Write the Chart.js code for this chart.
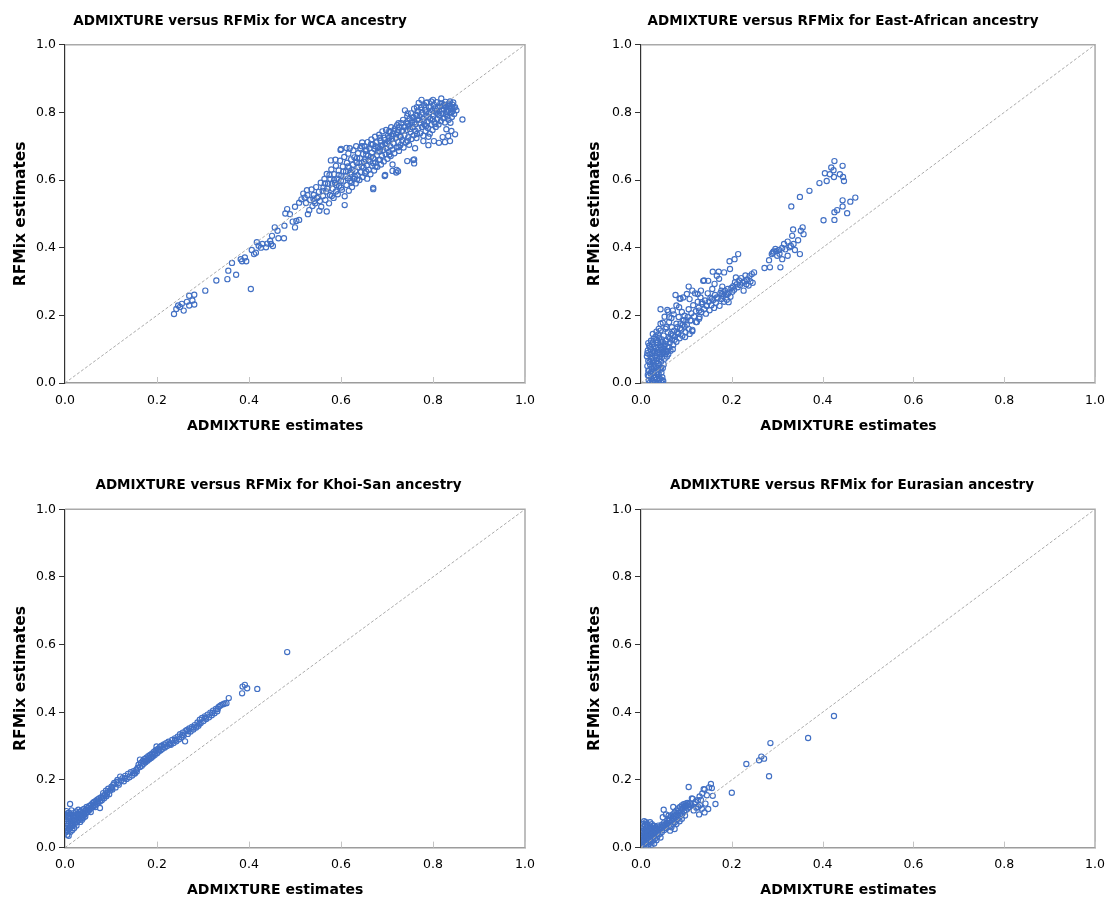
<!DOCTYPE html>
<html><head><meta charset="utf-8">
<script src="https://cdn.jsdelivr.net/npm/chart.js@4.4.1/dist/chart.umd.min.js"></script>
<style>
html,body{margin:0;padding:0;background:#fff;}
#wrap{position:relative;width:1115px;height:899px;overflow:hidden;background:#fff;}
canvas{position:absolute;}
</style></head><body>
<div id="wrap">
<canvas id="c1" width="557" height="450" style="left:0;top:0"></canvas>
<canvas id="c2" width="558" height="450" style="left:557px;top:0"></canvas>
<canvas id="c3" width="557" height="449" style="left:0;top:450px"></canvas>
<canvas id="c4" width="558" height="449" style="left:557px;top:450px"></canvas>
</div>
<script>
// ---------- text & ticks ----------
const chartTitles = [
  'ADMIXTURE versus RFMix for WCA ancestry',
  'ADMIXTURE versus RFMix for East-African ancestry',
  'ADMIXTURE versus RFMix for Khoi-San ancestry',
  'ADMIXTURE versus RFMix for Eurasian ancestry'
];
const xTitle = 'ADMIXTURE estimates';
const yTitle = 'RFMix estimates';
const tickValues = [0, 0.2, 0.4, 0.6, 0.8, 1.0];
const tickLabels = ['0.0', '0.2', '0.4', '0.6', '0.8', '1.0'];
const diagonal = [[0, 0], [1, 1]];

// ---------- data: [ADMIXTURE, RFMix] ----------
const wcaPoints = [
[0.237,0.204],[0.242,0.219],[0.246,0.229],[0.254,0.234],[0.258,0.214],[0.270,0.258],[0.281,0.261],[0.277,0.244],[0.270,0.229],[0.281,0.232],[0.250,0.225],[0.265,0.240],
[0.305,0.273],[0.329,0.303],[0.353,0.307],[0.355,0.332],[0.363,0.355],[0.372,0.320],[0.382,0.366],[0.391,0.371],[0.394,0.360],[0.385,0.360],[0.404,0.278],[0.406,0.393],[0.411,0.381],[0.415,0.385],[0.417,0.416],[0.421,0.406],[0.429,0.411],[0.426,0.400],[0.437,0.401],[0.440,0.412],[0.448,0.411],[0.446,0.420],[0.450,0.435],[0.452,0.405],[0.456,0.460],[0.462,0.450],[0.464,0.428],[0.476,0.428],[0.477,0.465],[0.479,0.501],[0.483,0.514],[0.489,0.499],[0.495,0.477],[0.500,0.460],[0.503,0.479],[0.509,0.482],[0.500,0.521],[0.509,0.533],[0.514,0.543],[0.518,0.560],[0.526,0.570],[0.528,0.499],[0.531,0.511],[0.542,0.538],[0.553,0.509],[0.569,0.507],[0.608,0.526],[0.670,0.573],[0.695,0.612],
[0.521,0.548],[0.524,0.532],[0.527,0.556],[0.533,0.541],[0.536,0.572],[0.538,0.523],
[0.541,0.556],[0.544,0.531],[0.546,0.579],[0.548,0.547],[0.552,0.565],[0.554,0.538],[0.556,0.592],[0.557,0.521],
[0.561,0.553],[0.562,0.578],[0.564,0.603],[0.566,0.541],[0.568,0.566],[0.569,0.618],[0.572,0.589],[0.574,0.531],
[0.576,0.556],[0.577,0.603],[0.578,0.658],[0.579,0.631],[0.582,0.574],[0.584,0.547],[0.585,0.617],[0.587,0.592],[0.589,0.642],[0.589,0.566],
[0.592,0.604],[0.593,0.558],[0.595,0.628],[0.596,0.582],[0.598,0.657],[0.599,0.689],[0.601,0.613],[0.602,0.571],[0.604,0.640],[0.605,0.596],[0.607,0.668],[0.608,0.552],
[0.611,0.625],[0.612,0.585],[0.613,0.651],[0.615,0.605],[0.616,0.678],[0.617,0.568],[0.618,0.636],[0.619,0.694],[0.620,0.597],
[0.622,0.661],[0.623,0.617],[0.624,0.579],[0.626,0.645],[0.627,0.688],[0.628,0.603],[0.629,0.667],[0.631,0.627],[0.632,0.590],[0.633,0.700],[0.634,0.652],[0.636,0.614],[0.637,0.679],[0.638,0.638],
[0.640,0.600],[0.641,0.664],[0.642,0.694],[0.643,0.623],[0.645,0.651],[0.646,0.711],[0.647,0.609],[0.648,0.677],[0.649,0.637],
[0.651,0.700],[0.652,0.620],[0.653,0.661],[0.654,0.686],[0.656,0.643],[0.657,0.604],[0.658,0.712],[0.659,0.672],[0.660,0.630],
[0.662,0.694],[0.663,0.655],[0.664,0.617],[0.666,0.720],[0.667,0.681],[0.668,0.642],[0.669,0.706],[0.670,0.665],
[0.672,0.628],[0.673,0.692],[0.674,0.728],[0.675,0.651],[0.677,0.711],[0.678,0.673],[0.679,0.639],[0.680,0.697],
[0.682,0.659],[0.683,0.734],[0.684,0.684],[0.686,0.716],[0.687,0.646],[0.688,0.702],[0.689,0.672],[0.690,0.744],
[0.692,0.689],[0.693,0.655],[0.694,0.725],[0.696,0.707],[0.697,0.676],[0.698,0.748],[0.699,0.694],[0.701,0.663],[0.702,0.731],[0.703,0.714],[0.704,0.683],
[0.706,0.741],[0.707,0.700],[0.708,0.671],[0.709,0.756],[0.711,0.721],[0.712,0.690],[0.713,0.737],[0.714,0.708],[0.716,0.679],[0.717,0.752],
[0.719,0.725],[0.721,0.697],[0.722,0.762],[0.723,0.741],[0.725,0.712],[0.726,0.686],[0.727,0.757],[0.728,0.730],[0.729,0.703],
[0.731,0.768],[0.732,0.745],[0.733,0.718],[0.735,0.778],[0.736,0.696],[0.737,0.757],[0.738,0.732],[0.739,0.806],
[0.741,0.712],[0.742,0.770],[0.743,0.748],[0.744,0.789],[0.746,0.726],[0.747,0.761],[0.748,0.704],[0.749,0.781],
[0.751,0.742],[0.752,0.797],[0.753,0.721],[0.754,0.770],[0.756,0.756],[0.757,0.786],[0.758,0.732],[0.759,0.811],
[0.761,0.765],[0.762,0.745],[0.763,0.793],[0.764,0.724],[0.766,0.778],[0.767,0.805],[0.768,0.752],[0.769,0.828],
[0.771,0.789],[0.772,0.738],[0.773,0.768],[0.774,0.815],[0.775,0.837],[0.776,0.757],[0.777,0.799],[0.778,0.781],[0.779,0.731],
[0.781,0.821],[0.782,0.763],[0.783,0.808],[0.784,0.745],[0.786,0.790],[0.787,0.829],[0.788,0.772],[0.789,0.754],
[0.791,0.815],[0.792,0.798],[0.793,0.737],[0.794,0.781],[0.796,0.832],[0.797,0.764],[0.798,0.806],[0.799,0.748],
[0.801,0.790],[0.802,0.823],[0.803,0.771],[0.804,0.812],[0.806,0.757],[0.807,0.799],[0.808,0.830],[0.809,0.780],
[0.811,0.816],[0.812,0.764],[0.813,0.805],[0.814,0.791],[0.816,0.826],[0.817,0.774],[0.818,0.841],[0.819,0.810],
[0.821,0.796],[0.822,0.783],[0.823,0.822],[0.824,0.808],[0.826,0.770],[0.827,0.831],[0.828,0.795],[0.829,0.815],
[0.831,0.788],[0.832,0.824],[0.833,0.805],[0.834,0.778],[0.836,0.818],[0.837,0.832],[0.838,0.797],[0.839,0.810],
[0.841,0.786],[0.842,0.823],[0.843,0.804],[0.845,0.815],[0.846,0.795],[0.848,0.815],[0.851,0.806],[0.844,0.829],
[0.712,0.627],[0.720,0.622],[0.724,0.626],[0.712,0.646],[0.744,0.656],[0.759,0.661],[0.759,0.649],[0.761,0.694],[0.779,0.715],[0.790,0.703],[0.802,0.715],[0.813,0.710],[0.821,0.727],[0.833,0.730],[0.837,0.715],[0.829,0.750],[0.848,0.735],[0.838,0.769],[0.864,0.779],[0.757,0.659],[0.696,0.615],[0.670,0.577],[0.721,0.630],[0.790,0.728],[0.826,0.712],[0.840,0.745],
[0.588,0.660],[0.600,0.692],[0.612,0.695],[0.623,0.592],[0.635,0.602],[0.600,0.578],[0.580,0.553],
[0.585,0.600],[0.595,0.615],[0.605,0.625],[0.615,0.640],[0.625,0.630],[0.635,0.665],[0.645,0.640],[0.655,0.675],[0.665,0.668],[0.675,0.700],[0.685,0.693],[0.695,0.718],[0.705,0.725],[0.715,0.745],[0.725,0.748],[0.735,0.745],[0.745,0.766],[0.755,0.776],[0.765,0.790],[0.775,0.808],[0.785,0.800],[0.795,0.817],[0.805,0.805],[0.815,0.817],[0.825,0.818],[0.835,0.826],[0.842,0.812],
[0.590,0.585],[0.600,0.598],[0.610,0.612],[0.620,0.622],[0.630,0.610],[0.640,0.650],[0.650,0.654],[0.660,0.660],[0.670,0.650],[0.680,0.685],[0.690,0.700],[0.700,0.708],[0.710,0.730],[0.720,0.735],[0.730,0.727],[0.740,0.758],[0.750,0.751],[0.760,0.771],[0.770,0.778],[0.780,0.773],[0.790,0.787],[0.800,0.780],[0.810,0.796],[0.820,0.826],[0.830,0.801],[0.840,0.800],
[0.645,0.700],[0.655,0.690],[0.665,0.705],[0.685,0.725],[0.705,0.745],[0.725,0.768],[0.745,0.797],[0.765,0.815],[0.785,0.828],[0.800,0.837],
[0.655,0.625],[0.675,0.640],[0.685,0.660],[0.705,0.675],[0.725,0.697],[0.745,0.715],[0.765,0.736],[0.785,0.760],[0.805,0.766],[0.825,0.783],
[0.560,0.568],[0.570,0.575],[0.550,0.550],[0.540,0.545],[0.580,0.590],[0.565,0.590],[0.575,0.615]
];

const eastAfricanPoints = [
[0.020,0.002],[0.026,0.004],[0.032,0.003],[0.038,0.005],[0.044,0.002],[0.049,0.006],[0.023,0.012],[0.029,0.015],[0.035,0.011],[0.041,0.014],[0.047,0.017],[0.017,0.008],
[0.015,0.024],[0.021,0.028],[0.027,0.022],[0.033,0.030],[0.039,0.026],[0.045,0.031],[0.018,0.038],[0.024,0.042],[0.030,0.036],[0.036,0.045],[0.042,0.039],[0.048,0.044],[0.014,0.050],
[0.020,0.055],[0.026,0.060],[0.032,0.052],[0.038,0.058],[0.044,0.063],[0.050,0.055],[0.016,0.066],[0.022,0.071],[0.028,0.067],[0.034,0.074],[0.040,0.070],[0.046,0.077],[0.013,0.079],
[0.019,0.084],[0.025,0.088],[0.031,0.082],[0.037,0.090],[0.043,0.086],[0.049,0.093],[0.015,0.096],[0.021,0.100],[0.027,0.094],[0.033,0.103],[0.039,0.098],[0.045,0.105],[0.052,0.100],[0.056,0.092],
[0.018,0.110],[0.024,0.114],[0.030,0.108],[0.036,0.118],[0.042,0.112],[0.048,0.121],[0.054,0.115],[0.022,0.125],[0.028,0.131],[0.034,0.127],[0.040,0.134],[0.046,0.129],[0.016,0.118],
[0.026,0.145],[0.034,0.152],[0.043,0.155],[0.038,0.143],[0.047,0.008],
[0.017,0.020],[0.023,0.034],[0.029,0.046],[0.035,0.064],[0.041,0.078],[0.047,0.089],[0.019,0.062],[0.025,0.078],[0.031,0.094],[0.037,0.106],[0.043,0.122],[0.050,0.110],[0.014,0.088],[0.020,0.106],[0.026,0.120],[0.032,0.137],[0.044,0.045],[0.040,0.008],[0.033,0.018],[0.025,0.006],[0.045,0.098],[0.028,0.054],[0.053,0.085],[0.058,0.095],[0.062,0.105],[0.064,0.132],[0.070,0.140],[0.074,0.128],[0.079,0.150],[0.086,0.162],[0.092,0.172],[0.100,0.185],[0.059,0.150],[0.050,0.140],[0.016,0.036],[0.037,0.033],
[0.055,0.125],[0.058,0.108],[0.061,0.135],[0.063,0.118],[0.066,0.145],[0.068,0.128],[0.071,0.112],[0.073,0.155],[0.075,0.138],[0.078,0.122],[0.080,0.165],[0.082,0.147],[0.085,0.132],[0.087,0.176],[0.089,0.158],[0.091,0.140],[0.094,0.185],[0.096,0.167],[0.098,0.150],[0.060,0.085],[0.057,0.078],[0.065,0.095],[0.070,0.100],[0.052,0.072],[0.043,0.218],[0.052,0.196],[0.060,0.211],[0.062,0.180],[0.067,0.192],[0.072,0.203],[0.076,0.260],[0.085,0.250],[0.078,0.175],[0.083,0.195],[0.090,0.210],[0.056,0.165],[0.048,0.178],[0.068,0.165],
[0.043,0.175],[0.039,0.160],[0.054,0.160],[0.062,0.194],[0.070,0.214],[0.058,0.216],[0.078,0.229],[0.082,0.145],[0.093,0.185],[0.097,0.136],[0.105,0.160],[0.113,0.153],
[0.101,0.172],[0.103,0.195],[0.105,0.218],[0.107,0.248],[0.109,0.185],[0.111,0.206],[0.113,0.157],[0.115,0.230],[0.117,0.197],[0.119,0.265],[0.121,0.212],[0.123,0.180],[0.125,0.240],[0.127,0.222],[0.129,0.195],[0.131,0.253],[0.133,0.210],[0.135,0.234],[0.137,0.302],[0.139,0.218],[0.141,0.244],[0.143,0.205],[0.145,0.228],[0.147,0.265],[0.149,0.240],[0.151,0.215],[0.153,0.252],[0.155,0.230],[0.157,0.278],[0.159,0.245],[0.161,0.222],[0.163,0.260],[0.165,0.237],[0.167,0.317],[0.169,0.250],[0.171,0.329],[0.173,0.228],[0.175,0.266],[0.177,0.248],[0.179,0.285],[0.181,0.257],[0.183,0.240],[0.185,0.272],[0.187,0.262],[0.189,0.246],[0.191,0.278],[0.193,0.267],[0.195,0.360],[0.196,0.337],[0.197,0.255],[0.199,0.281],[0.201,0.270],[0.203,0.286],[0.205,0.276],[0.207,0.298],[0.209,0.312],[0.211,0.292],[0.214,0.381],[0.206,0.366],[0.213,0.283],[0.216,0.303],[0.218,0.290],[0.221,0.310],[0.224,0.296],[0.226,0.273],[0.228,0.301],[0.230,0.318],[0.232,0.292],[0.234,0.306],[0.237,0.288],[0.239,0.316],[0.241,0.300],[0.244,0.322],[0.246,0.296],[0.249,0.327],[0.158,0.329],[0.172,0.308],[0.162,0.293],[0.148,0.302],[0.139,0.303],[0.132,0.273],[0.125,0.263],[0.113,0.273],[0.105,0.285],[0.101,0.263],[0.093,0.253],[0.087,0.249],[0.084,0.224],[0.096,0.199],[0.109,0.185],[0.121,0.180],[0.128,0.190],[0.107,0.145],[0.191,0.263],[0.193,0.239],[0.179,0.263],[0.183,0.327],[0.177,0.273],[0.167,0.253],[0.156,0.249],[0.144,0.229],[0.134,0.239],[0.128,0.214],
[0.272,0.340],[0.282,0.363],[0.284,0.342],[0.288,0.381],[0.292,0.389],[0.296,0.396],[0.300,0.376],[0.304,0.393],[0.307,0.342],[0.311,0.399],[0.311,0.366],[0.315,0.411],[0.323,0.418],[0.323,0.376],[0.327,0.401],[0.333,0.435],[0.335,0.454],[0.336,0.411],[0.339,0.393],[0.346,0.422],[0.350,0.381],[0.352,0.450],[0.356,0.460],[0.358,0.440],[0.298,0.390],[0.318,0.395],[0.330,0.405],[0.290,0.385],[0.305,0.382],
[0.331,0.522],[0.350,0.550],[0.371,0.568],[0.393,0.591],[0.405,0.620],[0.409,0.597],[0.416,0.617],[0.419,0.637],[0.424,0.629],[0.425,0.609],[0.426,0.656],[0.438,0.617],[0.444,0.642],[0.445,0.609],[0.447,0.597],[0.444,0.540],[0.461,0.536],[0.472,0.548],[0.444,0.522],[0.432,0.511],[0.426,0.505],[0.454,0.502],[0.402,0.481],[0.426,0.482]
];

const khoiSanPoints = [
[0.001,0.045],[0.002,0.058],[0.003,0.071],[0.002,0.084],[0.004,0.097],[0.003,0.108],[0.006,0.052],[0.007,0.065],[0.008,0.078],[0.007,0.091],[0.009,0.103],[0.005,0.038],[0.010,0.060],[0.011,0.129],[0.012,0.072],[0.011,0.085],[0.013,0.098],[0.014,0.110],[0.012,0.047],
[0.016,0.064],[0.017,0.077],[0.018,0.090],[0.019,0.102],[0.021,0.070],[0.022,0.083],[0.023,0.095],[0.024,0.107],[0.026,0.076],[0.027,0.088],[0.028,0.100],[0.029,0.112],[0.020,0.058],[0.025,0.065],[0.016,0.052],[0.030,0.081],
[0.031,0.093],[0.032,0.105],[0.034,0.086],[0.035,0.098],[0.036,0.110],[0.038,0.092],[0.039,0.103],[0.041,0.114],[0.042,0.097],[0.043,0.108],[0.045,0.101],[0.046,0.112],[0.047,0.120],[0.049,0.106],[0.050,0.117],[0.033,0.076],[0.037,0.082],[0.040,0.088],[0.044,0.092],
[0.004,0.078],[0.005,0.090],[0.006,0.102],[0.009,0.055],[0.010,0.092],[0.013,0.064],[0.015,0.080],[0.018,0.070],[0.020,0.094],[0.023,0.076],[0.026,0.098],[0.031,0.086],[0.036,0.091],[0.041,0.099],[0.046,0.104],[0.051,0.112],[0.008,0.035],[0.003,0.050],
[0.052,0.110],[0.053,0.123],[0.055,0.114],[0.057,0.127],[0.058,0.118],[0.060,0.131],[0.062,0.122],[0.063,0.135],[0.065,0.126],[0.067,0.138],[0.069,0.130],[0.070,0.142],[0.072,0.133],[0.074,0.145],[0.076,0.136],[0.076,0.117],[0.078,0.148],[0.080,0.140],[0.082,0.152],[0.083,0.161],[0.085,0.146],[0.087,0.157],[0.089,0.168],[0.090,0.152],[0.066,0.120],[0.056,0.105],
[0.061,0.126],[0.071,0.136],[0.081,0.146],[0.091,0.157],[0.102,0.176],[0.115,0.190],[0.130,0.205],[0.150,0.220],
[0.092,0.163],[0.094,0.174],[0.096,0.158],[0.098,0.169],[0.101,0.180],[0.103,0.172],[0.105,0.186],[0.107,0.191],[0.110,0.178],[0.112,0.194],[0.114,0.200],[0.117,0.186],[0.120,0.210],[0.122,0.198],[0.125,0.205],[0.128,0.196],[0.131,0.212],[0.134,0.203],[0.137,0.218],[0.140,0.208],[0.143,0.223],[0.146,0.213],[0.149,0.226],[0.152,0.219],[0.155,0.230],[0.156,0.225],[0.158,0.236],
[0.160,0.245],[0.163,0.238],[0.163,0.260],[0.165,0.250],[0.167,0.242],[0.169,0.256],[0.171,0.248],[0.173,0.262],[0.175,0.252],[0.177,0.266],[0.179,0.257],[0.181,0.270],[0.183,0.261],[0.185,0.274],[0.187,0.265],[0.189,0.278],[0.191,0.269],[0.193,0.283],[0.195,0.274],[0.197,0.288],[0.199,0.299],[0.200,0.279],[0.202,0.292],[0.204,0.284],[0.206,0.297],[0.208,0.288],[0.210,0.301],[0.212,0.292],[0.215,0.305],[0.217,0.296],[0.220,0.309],[0.222,0.300],[0.225,0.313],[0.228,0.309],[0.230,0.304],[0.233,0.318],[0.236,0.309],[0.239,0.323],[0.242,0.314],[0.245,0.328],[0.248,0.320],[0.250,0.335],[0.176,0.258],[0.186,0.268],[0.196,0.280],
[0.172,0.255],[0.182,0.265],[0.192,0.276],[0.203,0.288],[0.214,0.298],[0.227,0.305],[0.240,0.318],[0.255,0.333],[0.268,0.344],[0.280,0.355],[0.292,0.366],[0.306,0.384],[0.320,0.398],[0.332,0.410],
[0.253,0.326],[0.256,0.340],[0.258,0.331],[0.261,0.314],[0.262,0.345],[0.265,0.348],[0.267,0.336],[0.270,0.352],[0.273,0.343],[0.276,0.357],[0.279,0.349],[0.282,0.362],[0.285,0.355],[0.288,0.370],[0.290,0.360],[0.293,0.378],[0.295,0.368],[0.298,0.383],[0.301,0.374],[0.304,0.388],[0.307,0.380],[0.310,0.393],[0.313,0.385],[0.316,0.399],[0.319,0.391],[0.322,0.405],[0.325,0.397],[0.328,0.410],[0.331,0.403],[0.334,0.416],[0.337,0.419],[0.340,0.422],[0.344,0.424],[0.347,0.426],[0.351,0.427],[0.356,0.442],
[0.386,0.476],[0.391,0.481],[0.396,0.471],[0.385,0.456],[0.418,0.469],[0.483,0.578]
];

const eurasianPoints = [
[0.001,0.005],[0.002,0.016],[0.001,0.027],[0.003,0.038],[0.002,0.049],[0.004,0.060],[0.007,0.078],[0.006,0.010],[0.007,0.022],[0.006,0.033],[0.008,0.044],[0.007,0.055],[0.009,0.066],[0.011,0.004],[0.012,0.015],[0.011,0.027],[0.013,0.038],[0.012,0.049],[0.014,0.060],[0.013,0.071],[0.016,0.009],[0.017,0.021],[0.016,0.032],[0.018,0.043],[0.017,0.054],[0.019,0.065],[0.021,0.015],[0.022,0.026],[0.021,0.037],[0.023,0.048],[0.022,0.059],[0.024,0.069],[0.026,0.021],[0.027,0.032],[0.026,0.043],[0.028,0.054],[0.027,0.064],[0.031,0.027],[0.032,0.038],[0.031,0.049],[0.033,0.059],[0.036,0.033],[0.037,0.044],[0.036,0.055],[0.038,0.065],[0.041,0.040],[0.042,0.051],[0.041,0.062],[0.046,0.046],[0.047,0.057],[0.046,0.068],[0.051,0.052],[0.052,0.063],[0.051,0.074],[0.056,0.058],[0.057,0.069],[0.016,0.003],[0.029,0.012],[0.034,0.022],[0.020,0.075],[0.043,0.030],
[0.004,0.021],[0.004,0.043],[0.009,0.012],[0.009,0.032],[0.010,0.052],[0.014,0.022],[0.015,0.044],[0.019,0.033],[0.020,0.054],[0.024,0.038],[0.025,0.058],[0.029,0.045],[0.030,0.064],[0.034,0.050],[0.039,0.055],[0.044,0.060],[0.049,0.065],[0.054,0.070],[0.059,0.074],[0.063,0.081],[0.069,0.088],[0.073,0.094],[0.081,0.108],[0.089,0.116],[0.097,0.124],[0.011,0.075],[0.005,0.070],[0.023,0.008],[0.035,0.042],[0.061,0.095],
[0.058,0.080],[0.061,0.064],[0.062,0.086],[0.064,0.073],[0.066,0.092],[0.067,0.060],[0.068,0.079],[0.070,0.098],[0.071,0.069],[0.072,0.086],[0.074,0.104],[0.075,0.076],[0.076,0.093],[0.078,0.110],[0.079,0.082],[0.080,0.098],[0.082,0.116],[0.083,0.088],[0.084,0.104],[0.086,0.120],[0.087,0.094],[0.088,0.110],[0.090,0.125],[0.091,0.100],[0.092,0.115],[0.094,0.128],[0.095,0.106],[0.096,0.120],[0.098,0.130],[0.099,0.111],[0.100,0.124],[0.102,0.132],[0.103,0.116],[0.104,0.127],[0.106,0.120],[0.108,0.130],[0.071,0.120],[0.050,0.112],[0.064,0.050],[0.078,0.070],[0.090,0.085],[0.048,0.090],[0.055,0.098],[0.074,0.055],[0.085,0.078],[0.097,0.095],
[0.105,0.179],[0.112,0.145],[0.114,0.144],[0.116,0.110],[0.120,0.135],[0.122,0.118],[0.125,0.140],[0.128,0.098],[0.129,0.151],[0.132,0.141],[0.130,0.125],[0.135,0.160],[0.138,0.173],[0.140,0.104],[0.140,0.172],[0.142,0.130],[0.145,0.155],[0.148,0.114],[0.150,0.178],[0.154,0.188],[0.156,0.176],[0.158,0.153],[0.164,0.129],[0.118,0.128],[0.126,0.120],[0.134,0.115],[0.110,0.125],
[0.200,0.162],[0.232,0.247],[0.260,0.258],[0.265,0.269],[0.271,0.263],[0.282,0.211],[0.285,0.309],[0.368,0.324],[0.425,0.389]
];

// ---------- layout (global page coordinates) ----------
const panels = [
  {id:'c1', cx:0,   cy:0,   w:557, h:450, l:65,  t:44.7,  r:525,  b:383,   titleX:240,   titleY:21.5,  yLabX:20.7, points:wcaPoints},
  {id:'c2', cx:557, cy:0,   w:558, h:450, l:641, t:44.7,  r:1099, b:383,   titleX:843,   titleY:21.5,  yLabX:595,  points:eastAfricanPoints},
  {id:'c3', cx:0,   cy:450, w:557, h:449, l:65,  t:509.3, r:525,  b:847.6, titleX:278.5, titleY:485.5, yLabX:20.7, points:khoiSanPoints},
  {id:'c4', cx:557, cy:450, w:558, h:449, l:641, t:509.3, r:1099, b:847.6, titleX:852,   titleY:485.5, yLabX:595,  points:eurasianPoints}
];

const FONT = '"DejaVu Sans", Verdana, sans-serif';

const decor = {
  id: 'decor',
  afterDraw(chart, args, o) {
    const ctx = chart.ctx, a = chart.chartArea, xs = chart.scales.x;
    ctx.save();
    ctx.strokeStyle = '#a9a9a9'; ctx.lineWidth = 1.5;
    ctx.beginPath(); ctx.moveTo(a.left, a.top); ctx.lineTo(a.right, a.top); ctx.lineTo(a.right, a.bottom); ctx.stroke();
    ctx.strokeStyle = '#c4c4c4'; ctx.lineWidth = 1;
    tickValues.forEach(v => {
      if (v === 0) return;
      const px = Math.round(xs.getPixelForValue(v)) + 0.5;
      ctx.beginPath(); ctx.moveTo(px, a.bottom); ctx.lineTo(px, a.bottom - 6); ctx.stroke();
    });
    ctx.fillStyle = '#000'; ctx.textAlign = 'center'; ctx.textBaseline = 'middle';
    ctx.font = 'bold 13.5px ' + FONT;
    ctx.fillText(o.title, o.titleX, o.titleY);
    ctx.font = 'bold 14px ' + FONT;
    ctx.fillText(xTitle, a.left + 0.457 * (a.right - a.left), a.bottom + 43);
    ctx.translate(o.yLabX, (a.top + a.bottom) / 2);
    ctx.rotate(-Math.PI / 2);
    ctx.font = 'bold 15.5px ' + FONT;
    ctx.fillText(yTitle, 0, 0);
    ctx.restore();
  }
};

panels.forEach((p, i) => {
  const L = {left: p.l - p.cx, top: p.t - p.cy, right: p.r - p.cx, bottom: p.b - p.cy};
  new Chart(document.getElementById(p.id), {
    type: 'scatter',
    data: {
      datasets: [
        {type: 'line', data: diagonal.map(d => ({x: d[0], y: d[1]})), borderColor: '#ababab', borderWidth: 1, borderDash: [3, 2], pointRadius: 0, fill: false, order: 0},
        {data: p.points.map(d => ({x: d[0], y: d[1]})), borderColor: '#4270c4', backgroundColor: 'rgba(0,0,0,0)', pointRadius: 2.6, borderWidth: 1.15, order: 1}
      ]
    },
    options: {
      responsive: false, animation: false, events: [],
      layout: {padding: {top: L.top, right: p.w - L.right, left: 0, bottom: 0}},
      plugins: {
        legend: {display: false}, tooltip: {enabled: false}, title: {display: false},
        decor: {title: chartTitles[i], titleX: p.titleX - p.cx, titleY: p.titleY - p.cy, yLabX: p.yLabX - p.cx}
      },
      scales: {
        x: {
          type: 'linear', min: 0, max: 1,
          afterBuildTicks: s => { s.ticks = tickValues.map(v => ({value: v})); },
          afterFit: s => { s.height = p.h - L.bottom; },
          ticks: {callback: (v, k) => tickLabels[k], font: {family: FONT, size: 12.5}, color: '#000', padding: 10, maxRotation: 0, autoSkip: false},
          grid: {display: false, drawTicks: false},
          border: {display: true, color: '#9c9c9c', width: 1.6}
        },
        y: {
          type: 'linear', min: 0, max: 1,
          afterBuildTicks: s => { s.ticks = tickValues.map(v => ({value: v})); },
          afterFit: s => { s.width = L.left; },
          ticks: {callback: (v, k) => tickLabels[k], font: {family: FONT, size: 12.5}, color: '#000', padding: 3, autoSkip: false},
          grid: {display: true, drawOnChartArea: false, drawTicks: true, tickLength: 6, tickColor: '#333', color: '#333', tickWidth: 1},
          border: {display: true, color: '#333', width: 1.2}
        }
      }
    },
    plugins: [decor]
  });
});
</script>
</body></html>
